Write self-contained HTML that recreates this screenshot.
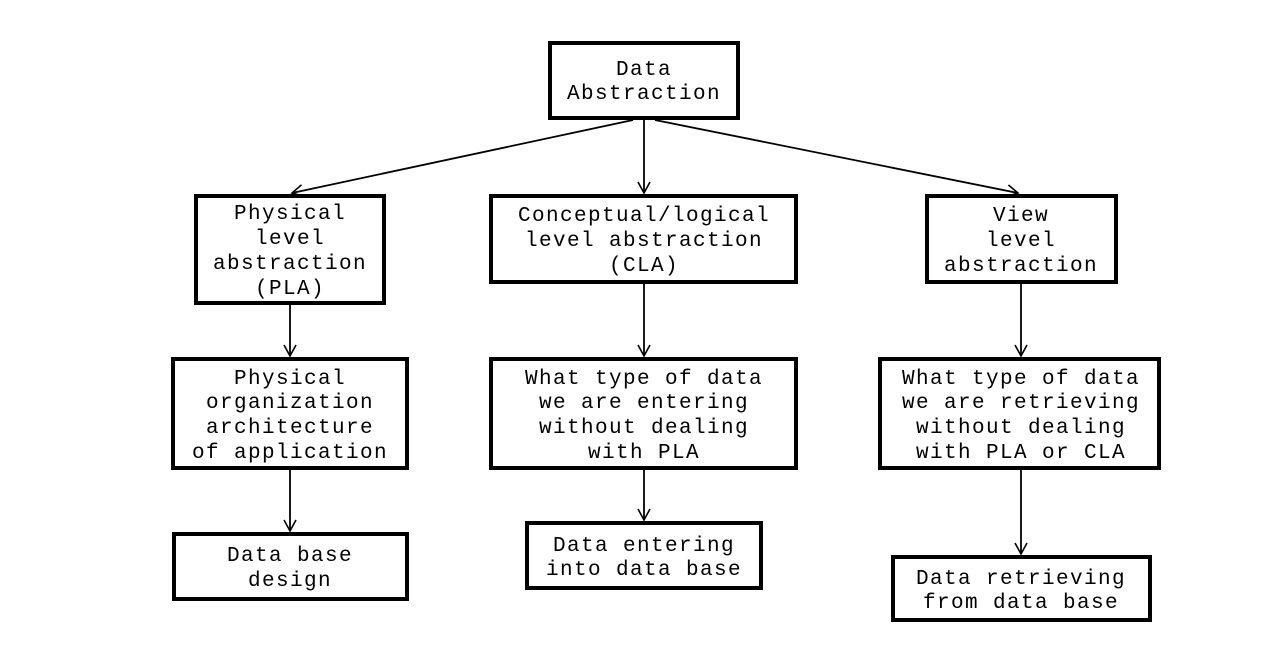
<!DOCTYPE html>
<html><head><meta charset="utf-8"><style>
html,body{margin:0;padding:0;background:#fff;}
svg{display:block}
text{font-family:"Liberation Mono",monospace;font-size:21px;letter-spacing:1.4px;fill:#000;text-anchor:middle}
</style></head><body>
<svg width="1263" height="650" viewBox="0 0 1263 650">
<defs><marker id="a" markerWidth="14" markerHeight="14" refX="12" refY="7" orient="auto" markerUnits="userSpaceOnUse"><path d="M1,1 L12,7 L1,13" fill="none" stroke="#000" stroke-width="1.6"/></marker></defs>
<g fill="none" stroke="#000" stroke-width="4">
<rect x="550" y="43" width="188" height="75"/>
<rect x="196" y="196" width="188" height="107"/>
<rect x="491" y="196" width="305" height="86"/>
<rect x="927" y="196" width="189" height="86"/>
<rect x="173" y="359" width="234" height="109"/>
<rect x="491" y="359" width="305" height="109"/>
<rect x="880" y="359" width="279" height="109"/>
<rect x="174" y="534" width="233" height="65"/>
<rect x="527" y="523" width="234" height="65"/>
<rect x="893" y="557" width="257" height="63"/>
</g>
<g stroke="#000" stroke-width="1.8" fill="none" marker-end="url(#a)">
<line x1="633" y1="120" x2="292" y2="193"/>
<line x1="644" y1="120" x2="644" y2="193"/>
<line x1="655" y1="120" x2="1018" y2="193"/>
<line x1="290" y1="305" x2="290" y2="356"/>
<line x1="644" y1="284" x2="644" y2="356"/>
<line x1="1021" y1="284" x2="1021" y2="356"/>
<line x1="290" y1="470" x2="290" y2="531"/>
<line x1="644" y1="470" x2="644" y2="520"/>
<line x1="1021" y1="470" x2="1021" y2="554"/>
</g>
<text x="644" y="75">Data</text>
<text x="644" y="99">Abstraction</text>
<text x="290" y="219">Physical</text>
<text x="290" y="244">level</text>
<text x="290" y="269">abstraction</text>
<text x="290" y="294">(PLA)</text>
<text x="644" y="221">Conceptual/logical</text>
<text x="644" y="246">level abstraction</text>
<text x="644" y="271">(CLA)</text>
<text x="1021" y="221">View</text>
<text x="1021" y="246">level</text>
<text x="1021" y="271">abstraction</text>
<text x="290" y="384">Physical</text>
<text x="290" y="408">organization</text>
<text x="290" y="433">architecture</text>
<text x="290" y="458">of application</text>
<text x="644" y="384">What type of data</text>
<text x="644" y="408">we are entering</text>
<text x="644" y="433">without dealing</text>
<text x="644" y="458">with PLA</text>
<text x="1021" y="384">What type of data</text>
<text x="1021" y="408">we are retrieving</text>
<text x="1021" y="433">without dealing</text>
<text x="1021" y="458">with PLA or CLA</text>
<text x="290" y="561">Data base</text>
<text x="290" y="586">design</text>
<text x="644" y="551">Data entering</text>
<text x="644" y="575">into data base</text>
<text x="1021" y="584">Data retrieving</text>
<text x="1021" y="608">from data base</text>
</svg>
</body></html>
